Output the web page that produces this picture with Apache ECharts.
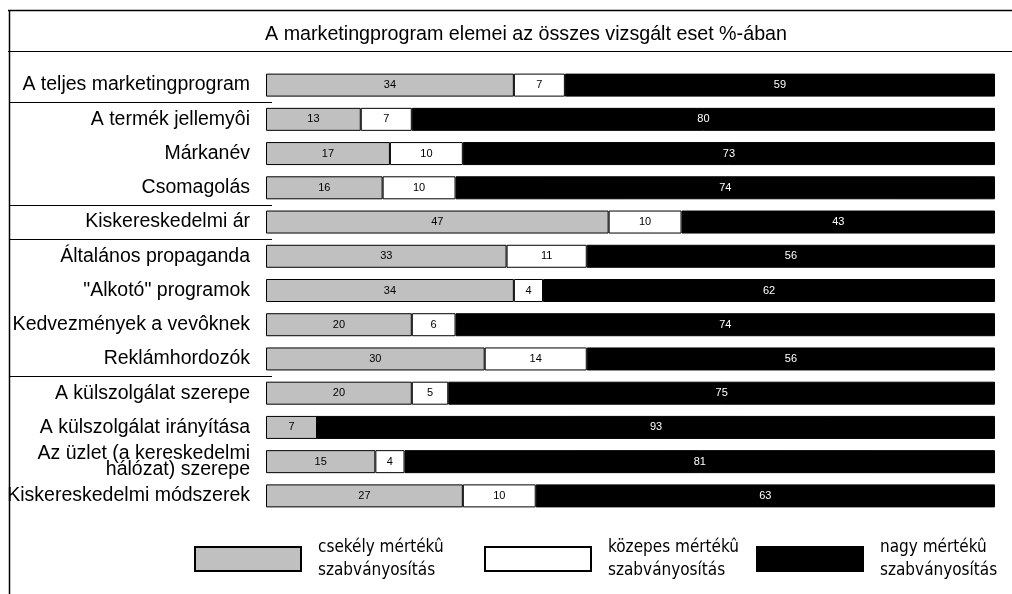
<!DOCTYPE html>
<html>
<head>
<meta charset="utf-8">
<script src="https://cdn.jsdelivr.net/npm/echarts@6/dist/echarts.min.js"></script>
<style>
  html, body { margin: 0; padding: 0; background: #fff; }
  #chart { width: 1012px; height: 594px; }
</style>
</head>
<body>
<div id="chart"></div>
<script>
// categories (top to bottom)
const categories = [
  'A teljes marketingprogram',
  'A termék jellemyôi',
  'Márkanév',
  'Csomagolás',
  'Kiskereskedelmi ár',
  'Általános propaganda',
  '"Alkotó" programok',
  'Kedvezmények a vevôknek',
  'Reklámhordozók',
  'A külszolgálat szerepe',
  'A külszolgálat irányítása',
  'Az üzlet (a kereskedelmi\nhálózat) szerepe',
  'Kiskereskedelmi módszerek'
]
const lowValues = [34, 13, 17, 16, 47, 33, 34, 20, 30, 20, 7, 15, 27]
const midValues = [7, 7, 10, 10, 10, 11, 4, 6, 14, 5, 0, 4, 10]
const highValues = [59, 80, 73, 74, 43, 56, 62, 74, 56, 75, 93, 81, 63]
const seriesNames = [
  'csekély mértékû\nszabványosítás',
  'közepes mértékû\nszabványosítás',
  'nagy mértékû\nszabványosítás'
]

const font = 'Liberation Sans, Arial, sans-serif'
const chart = echarts.init(document.getElementById('chart'))

// grid geometry
const gridTop = 68
const gridBottom = 81
const rowH = (594 - gridTop - gridBottom) / categories.length
// separator lines under these row indexes
const sepRows = [0, 3, 4, 8]

function sepLine(i) {
  const y = Math.round(gridTop + rowH * (i + 1)) + 0.5
  return {
    type: 'line',
    shape: { x1: 9, y1: y, x2: 272, y2: y },
    style: { stroke: '#000', lineWidth: 1 }
  }
}

function legendFor(name, left, color) {
  return {
    data: [{ name: name, icon: 'rect', itemStyle: { color: color, borderColor: '#000', borderWidth: 2 } }],
    left: left,
    top: 536,
    padding: 0,
    itemWidth: 106,
    itemHeight: 24,
    itemGap: 0,
    textStyle: {
      fontFamily: 'DejaVu Sans Condensed, Liberation Sans Narrow, sans-serif',
      fontSize: 17,
      lineHeight: 23,
      color: '#000',
      align: 'center',
      padding: [0, 0, 0, 12]
    }
  }
}

function makeSeries(name, values, color, labelColor) {
  return {
    name: name,
    type: 'bar',
    stack: 'total',
    barWidth: 23,
    data: values,
    itemStyle: { color: color, borderColor: '#000', borderWidth: 1 },
    label: {
      show: true,
      position: 'inside',
      fontFamily: font,
      fontSize: 11,
      color: labelColor,
      formatter: p => (p.value ? p.value : '')
    }
  }
}

chart.setOption({
  animation: false,
  backgroundColor: '#fff',
  title: {
    text: 'A marketingprogram elemei az összes vizsgált eset %-ában',
    left: 521,
    top: 20,
    textAlign: 'center',
    textStyle: { fontFamily: font, fontSize: 19.7, fontWeight: 'normal', color: '#000' }
  },
  legend: [
    legendFor(seriesNames[0], 194, '#c0c0c0'),
    legendFor(seriesNames[1], 484, '#ffffff'),
    legendFor(seriesNames[2], 756, '#000000')
  ],
  grid: { left: 266, right: 17, top: gridTop, bottom: gridBottom },
  xAxis: {
    type: 'value',
    min: 0,
    max: 100,
    show: false
  },
  yAxis: {
    type: 'category',
    data: categories,
    inverse: true,
    axisLine: { show: false },
    axisTick: { show: false },
    axisLabel: {
      margin: 16,
      fontFamily: font,
      fontSize: 19.5,
      lineHeight: 16,
      color: '#000'
    }
  },
  graphic: [
    { type: 'line', shape: { x1: 8, y1: 10.5, x2: 1012, y2: 10.5 }, style: { stroke: '#000', lineWidth: 1.5 } },
    { type: 'line', shape: { x1: 8, y1: 51.5, x2: 1012, y2: 51.5 }, style: { stroke: '#000', lineWidth: 1 } },
    { type: 'line', shape: { x1: 9.5, y1: 10, x2: 9.5, y2: 594 }, style: { stroke: '#000', lineWidth: 1.5 } }
  ].concat(sepRows.map(sepLine)),
  series: [
    makeSeries(seriesNames[0], lowValues, '#c0c0c0', '#000'),
    makeSeries(seriesNames[1], midValues, '#ffffff', '#000'),
    makeSeries(seriesNames[2], highValues, '#000000', '#fff')
  ]
})
</script>
</body>
</html>
